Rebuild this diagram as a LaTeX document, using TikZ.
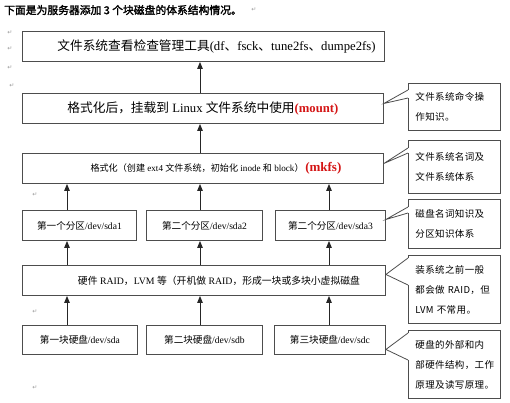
\documentclass[tikz,border=0pt]{standalone}
\usepackage{fontspec}
\setmainfont{Liberation Serif}
\newfontfamily\cjk{Noto Sans CJK SC}
\newfontfamily\cjkw{Noto Sans CJK SC}[LetterSpace=4]
\newfontfamily\cjkb{Noto Sans CJK SC}[FakeBold=2]
\newfontfamily\symf{DejaVu Sans}
\usetikzlibrary{arrows.meta,calc}
\definecolor{boxline}{HTML}{4D4D4D}
\definecolor{mred}{HTML}{D41515}
\begin{document}
\begin{tikzpicture}[x=1pt,y=-1pt,
  box/.style={draw=boxline, line width=0.9pt, inner sep=0pt, anchor=north west, align=center},
  arr/.style={draw=black!85, line width=1pt, -{Triangle[width=5.5pt,length=7pt]}},
  cbox/.style={draw=boxline, line width=0.8pt, anchor=north west, inner xsep=7pt, inner ysep=0pt,
    text width=78pt, minimum width=92pt, align=left, font=\cjkw\fontsize{9.5}{20}\selectfont},
  cptr/.style={draw=boxline, line width=0.8pt},
  rmark/.style={font=\symf\fontsize{6}{6}\selectfont, text=black!40, inner sep=0pt},
  big/.style={font=\fontsize{12.7}{15}\selectfont},
  small/.style={font=\fontsize{9.6}{12}\selectfont}]
\useasboundingbox (0,0) rectangle (510,402);

% title
\node[anchor=west, inner sep=0pt] (title) at (4,10) {\cjkb\fontsize{10.8}{12}\selectfont 下面是为服务器添加 3 个块磁盘的体系结构情况。};

% return marks
\node[rmark] (r1) at (10,33) {↵};
\node[rmark] (r2) at (10,49) {↵};
\node[rmark] (r3) at (10,68) {↵};
\node[rmark] (r4) at (12,86) {↵};
\node[rmark] (r5) at (35,195) {↵};
\node[rmark] (r6) at (35,312) {↵};
\node[rmark] (r7) at (35,388) {↵};
\node[rmark] (r8) at (254,10) {↵};

% main boxes
\node[box, big, minimum width=362pt, minimum height=30pt] (b1) at (22,31)
  {\hspace*{26pt}{\cjk 文件系统查看检查管理工具}(df{\cjk 、}fsck{\cjk 、}tune2fs{\cjk 、}dumpe2fs)};
\node[box, big, minimum width=361pt, minimum height=30pt] (b2) at (22,93)
  {{\cjk 格式化后，挂载到} Linux {\cjk 文件系统中使用}{\color{mred}\bfseries(mount)}};
\node[box, minimum width=361pt, minimum height=30pt] (b3) at (22,153)
  {\hspace*{26pt}{\fontsize{9.1}{11}\selectfont{\cjk 格式化（创建} ext4 {\cjk 文件系统，初始化} inode {\cjk 和} block{\cjk ）}}\,{\fontsize{13}{15}\selectfont\color{mred}\bfseries(mkfs)}};

\node[box, small, minimum width=114pt, minimum height=30pt] (pa) at (22,210) {{\cjk 第一个分区}/dev/sda1};
\node[box, small, minimum width=116pt, minimum height=30pt] (pb) at (146,210) {{\cjk 第二个分区}/dev/sda2};
\node[box, small, minimum width=110pt, minimum height=30pt] (pc) at (275,210) {{\cjk 第二个分区}/dev/sda3};

\node[box, minimum width=363pt, minimum height=30pt] (b4) at (22,265)
  {\hspace*{30pt}{\fontsize{9.8}{12}\selectfont{\cjk 硬件} RAID{\cjk ，}LVM {\cjk 等（开机做} RAID{\cjk ，形成一块或多块小虚拟磁盘}}};

\node[box, small, minimum width=115pt, minimum height=29pt] (da) at (22,325) {{\cjk 第一块硬盘}/dev/sda};
\node[box, small, minimum width=116pt, minimum height=29pt] (db) at (146,325) {{\cjk 第二块硬盘}/dev/sdb};
\node[box, small, minimum width=111pt, minimum height=29pt] (dc) at (274,325) {{\cjk 第三块硬盘}/dev/sdc};

% arrow columns
\coordinate (xa) at (67,0);
\coordinate (xb) at (200,0);
\coordinate (xc) at (329,0);

\draw[arr] (xb |- b2.north) -- (xb |- b1.south);
\draw[arr] (xb |- b3.north) -- (xb |- b2.south);
\draw[arr] (xa |- pa.north) -- (xa |- b3.south);
\draw[arr] (xb |- pb.north) -- (xb |- b3.south);
\draw[arr] (xc |- pc.north) -- (xc |- b3.south);
\draw[arr] (xa |- b4.north) -- (xa |- pa.south);
\draw[arr] (xb |- b4.north) -- (xb |- pb.south);
\draw[arr] (xc |- b4.north) -- (xc |- pc.south);
\draw[arr] (xa |- da.north) -- (xa |- b4.south);
\draw[arr] (xb |- db.north) -- (xb |- b4.south);
\draw[arr] (xc |- dc.north) -- (xc |- b4.south);

% callouts
\node[cbox, minimum height=47pt] (co1) at (408,83) {文件系统命令操\\作知识。};
\node[cbox, minimum height=53pt] (co2) at (408,140) {文件系统名词及\\文件系统体系};
\node[cbox, minimum height=49pt] (co3) at (408,199) {磁盘名词知识及\\分区知识体系};
\node[cbox, minimum height=68pt] (co4) at (408,255) {装系统之前一般\\都会做 RAID，但\\LVM 不常用。};
\node[cbox, minimum height=68pt] (co5) at (408,330) {硬盘的外部和内\\部硬件结构，工作\\原理及读写原理。};

% pointers
\fill[white] ([yshift=-7pt]co1.north west) rectangle ([yshift=-15pt,xshift=0.6pt]co1.north west);
\draw[cptr] ([yshift=-7pt]co1.north west) -- ([yshift=5pt]b2.east) -- ([yshift=-15pt]co1.north west);

\fill[white] ([yshift=-8pt]co2.north west) rectangle ([yshift=-13pt,xshift=0.6pt]co2.north west);
\draw[cptr] ([yshift=-8pt]co2.north west) -- ([yshift=5pt]b3.east) -- ([yshift=-13pt]co2.north west);

\fill[white] ([yshift=-8pt]co3.north west) rectangle ([yshift=-14pt,xshift=0.6pt]co3.north west);
\draw[cptr] ([yshift=-8pt]co3.north west) -- ([yshift=6pt]pc.east) -- ([yshift=-14pt]co3.north west);

\fill[white] ([yshift=-3pt]co4.north west) rectangle ([yshift=-30pt,xshift=0.6pt]co4.north west);
\draw[cptr] ([yshift=-3pt]co4.north west) -- ([yshift=6pt]b4.east) -- ([yshift=-30pt]co4.north west);

\fill[white] ([yshift=-3pt]co5.north west) rectangle ([yshift=-30pt,xshift=0.6pt]co5.north west);
\draw[cptr] ([yshift=-3pt]co5.north west) -- ([yshift=-9.5pt]dc.east) -- ([yshift=-30pt]co5.north west);
\end{tikzpicture}
\end{document}
